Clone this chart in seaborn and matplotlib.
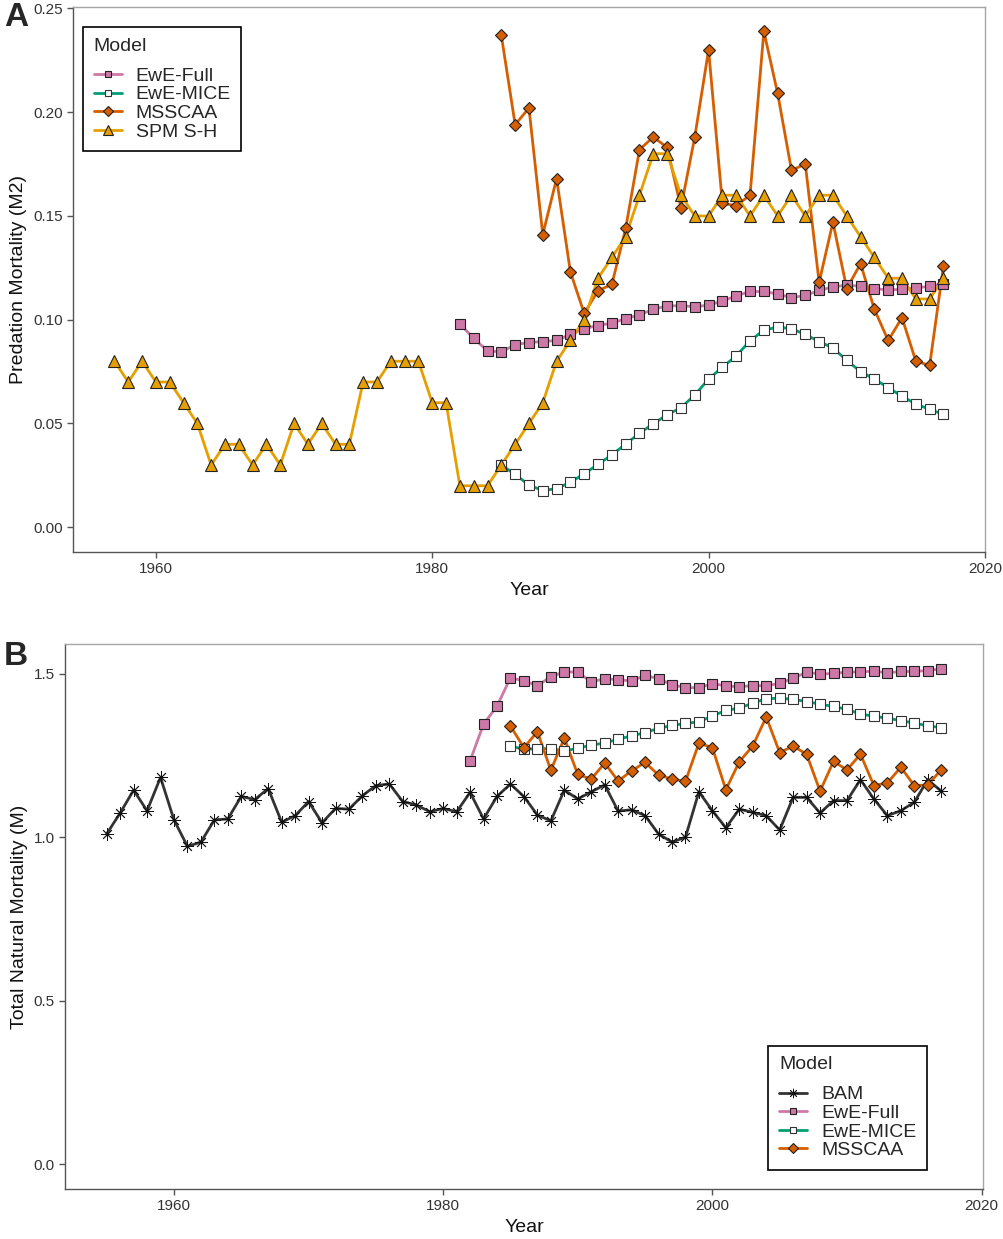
import numpy as np
import pandas as pd
import seaborn as sns
import matplotlib.pyplot as plt
from matplotlib.lines import Line2D

# Panel A: predation mortality (M2)
years_spm = list(range(1957, 2018))
spm_sh = [0.08, 0.07, 0.08, 0.07, 0.07, 0.06, 0.05, 0.03, 0.04, 0.04,
          0.03, 0.04, 0.03, 0.05, 0.04, 0.05, 0.04, 0.04, 0.07, 0.07,
          0.08, 0.08, 0.08, 0.06, 0.06, 0.02, 0.02, 0.02, 0.03, 0.04,
          0.05, 0.06, 0.08, 0.09, 0.10, 0.12, 0.13, 0.14, 0.16, 0.18,
          0.18, 0.16, 0.15, 0.15, 0.16, 0.16, 0.15, 0.16, 0.15, 0.16,
          0.15, 0.16, 0.16, 0.15, 0.14, 0.13, 0.12, 0.12, 0.11, 0.11, 0.12]

years_msscaa_a = list(range(1985, 2018))
msscaa_a = [0.237, 0.194, 0.202, 0.141, 0.168, 0.123, 0.103, 0.114, 0.117,
            0.144, 0.182, 0.188, 0.183, 0.154, 0.188, 0.230, 0.156, 0.155,
            0.160, 0.239, 0.209, 0.172, 0.175, 0.118, 0.147, 0.115, 0.127,
            0.105, 0.090, 0.101, 0.080, 0.078, 0.126]

years_full_a = list(range(1982, 2018))
ewe_full_a = [0.098, 0.091, 0.085, 0.0845, 0.088, 0.089, 0.0895, 0.090, 0.093,
              0.0957, 0.0972, 0.0984, 0.1005, 0.1024, 0.105, 0.1067, 0.1067,
              0.1063, 0.107, 0.109, 0.1115, 0.1136, 0.1136, 0.1124, 0.1106,
              0.1117, 0.1141, 0.1158, 0.1167, 0.1161, 0.1149, 0.1144, 0.1146,
              0.1153, 0.1161, 0.1172]

years_mice_a = list(range(1985, 2018))
ewe_mice_a = [0.030, 0.0255, 0.0203, 0.0177, 0.0186, 0.0217, 0.0258, 0.0303,
              0.0349, 0.0401, 0.0453, 0.0499, 0.0542, 0.0576, 0.0637, 0.0714,
              0.0771, 0.0826, 0.0898, 0.0950, 0.0964, 0.0957, 0.0929, 0.0895,
              0.0864, 0.0804, 0.0750, 0.0714, 0.0673, 0.0631, 0.0594, 0.0568,
              0.0544]

# Panel B: total natural mortality (M)
years_bam = list(range(1955, 2018))
bam = [1.010, 1.074, 1.144, 1.081, 1.183, 1.053, 0.972, 0.985, 1.053, 1.056,
       1.125, 1.115, 1.149, 1.046, 1.066, 1.109, 1.044, 1.088, 1.086, 1.127,
       1.158, 1.163, 1.109, 1.099, 1.078, 1.088, 1.078, 1.137, 1.056, 1.125,
       1.163, 1.124, 1.068, 1.050, 1.144, 1.117, 1.139, 1.160, 1.080, 1.084,
       1.066, 1.010, 0.985, 1.000, 1.139, 1.081, 1.029, 1.086, 1.076, 1.066,
       1.022, 1.122, 1.122, 1.074, 1.112, 1.112, 1.176, 1.117, 1.066, 1.081,
       1.107, 1.176, 1.141]

years_full_b = list(range(1982, 2018))
ewe_full_b = [1.234, 1.346, 1.401, 1.488, 1.478, 1.464, 1.491, 1.506, 1.505,
              1.475, 1.485, 1.482, 1.478, 1.495, 1.485, 1.466, 1.458, 1.457,
              1.470, 1.463, 1.460, 1.464, 1.463, 1.471, 1.486, 1.505, 1.499,
              1.501, 1.505, 1.506, 1.508, 1.503, 1.507, 1.507, 1.510, 1.515]

years_mice_b = list(range(1985, 2018))
ewe_mice_b = [1.279, 1.269, 1.271, 1.271, 1.264, 1.272, 1.282, 1.288, 1.300,
              1.310, 1.320, 1.333, 1.342, 1.348, 1.353, 1.371, 1.388, 1.395,
              1.410, 1.424, 1.425, 1.422, 1.415, 1.407, 1.400, 1.391, 1.377,
              1.370, 1.364, 1.357, 1.349, 1.341, 1.335]

years_msscaa_b = list(range(1985, 2018))
msscaa_b = [1.340, 1.274, 1.323, 1.205, 1.303, 1.192, 1.178, 1.227, 1.172,
            1.203, 1.229, 1.190, 1.178, 1.171, 1.288, 1.274, 1.145, 1.231,
            1.279, 1.368, 1.259, 1.279, 1.254, 1.141, 1.232, 1.206, 1.254,
            1.158, 1.166, 1.214, 1.158, 1.160, 1.206]

# estilo de cada modelo: color linea, marcador, relleno, borde, tamaño
estilos = {
    'BAM': dict(color='#333333', marker=(8, 2, 0), mfc='black', mec='#111111', ms=9, mew=0.6),
    'EwE-Full': dict(color='#CC79A7', marker='s', mfc='#CC79A7', mec='#222222', ms=6.5, mew=0.8),
    'EwE-MICE': dict(color='#009E73', marker='s', mfc='white', mec='#333333', ms=6.5, mew=0.8),
    'MSSCAA': dict(color='#D55E00', marker='D', mfc='#D55E00', mec='#222222', ms=6.5, mew=0.8),
    'SPM S-H': dict(color='#E69F00', marker='^', mfc='#E69F00', mec='#222222', ms=9, mew=0.8),
}

sns.set_style('white')
plt.rcParams['font.family'] = ['Liberation Sans', 'DejaVu Sans']


def dibujar_panel(ax, series):
    # primero todas las lineas, despues todos los puntos (como ggplot)
    for nombre, xs, ys in series:
        df = pd.DataFrame({'Year': xs, 'Value': ys})
        sns.lineplot(data=df, x='Year', y='Value', ax=ax, color=estilos[nombre]['color'],
                     linewidth=2.0, zorder=2, legend=False)
    for nombre, xs, ys in series:
        st = estilos[nombre]
        df = pd.DataFrame({'Year': xs, 'Value': ys})
        sns.lineplot(data=df, x='Year', y='Value', ax=ax, linestyle='', marker=st['marker'],
                     markerfacecolor=st['mfc'], markeredgecolor=st['mec'],
                     markersize=st['ms'], markeredgewidth=st['mew'], color=st['color'],
                     zorder=3, legend=False)
    handles = []
    for nombre, _, _ in series:
        st = estilos[nombre]
        handles.append(Line2D([], [], color=st['color'], lw=2.0, marker=st['marker'],
                              markerfacecolor=st['mfc'], markeredgecolor=st['mec'],
                              markersize=st['ms'] * 0.75, markeredgewidth=st['mew'],
                              label=nombre))
    return handles


def estilo_ejes(ax):
    for lado in ['top', 'right']:
        ax.spines[lado].set_color('#a6a6a6')
    for lado in ['left', 'bottom']:
        ax.spines[lado].set_color('#555555')
    for s in ax.spines.values():
        s.set_linewidth(1.0)
        s.set_visible(True)
    ax.tick_params(axis='both', direction='out', length=4, width=1, color='#555555',
                   labelsize=11, labelcolor='#333333', bottom=True, left=True)
    ax.set_xticks([1960, 1980, 2000, 2020])
    ax.set_xlabel('Year', fontsize=14, color='#111111')


def leyenda(ax, handles, loc, anchor):
    leg = ax.legend(handles=handles, title='Model', loc=loc, bbox_to_anchor=anchor,
                    borderaxespad=0, fontsize=14, title_fontsize=14, alignment='left',
                    fancybox=False, framealpha=1, edgecolor='black', labelspacing=0.05,
                    handlelength=1.45, handletextpad=0.7, borderpad=0.55)
    leg.get_frame().set_linewidth(1.2)
    leg._legend_box.sep = 9
    return leg


fig = plt.figure(figsize=(10.04, 12.39), dpi=100)
ax_a = fig.add_axes([0.0727, 0.5545, 0.9083, 0.4399])
ax_b = fig.add_axes([0.0647, 0.0404, 0.9143, 0.4398])

# Panel A
h_a = dibujar_panel(ax_a, [
    ('EwE-Full', years_full_a, ewe_full_a),
    ('EwE-MICE', years_mice_a, ewe_mice_a),
    ('MSSCAA', years_msscaa_a, msscaa_a),
    ('SPM S-H', years_spm, spm_sh),
])
estilo_ejes(ax_a)
ax_a.set_xlim(1954, 2020)
ax_a.set_ylim(-0.0119, 0.2507)
ax_a.set_yticks([0.00, 0.05, 0.10, 0.15, 0.20, 0.25])
ax_a.set_yticklabels(['0.00', '0.05', '0.10', '0.15', '0.20', '0.25'])
ax_a.set_ylabel('Predation Mortality (M2)', fontsize=14, color='#111111')
leyenda(ax_a, h_a, 'upper left', (0.011, 0.963))

# Panel B
h_b = dibujar_panel(ax_b, [
    ('BAM', years_bam, bam),
    ('EwE-Full', years_full_b, ewe_full_b),
    ('EwE-MICE', years_mice_b, ewe_mice_b),
    ('MSSCAA', years_msscaa_b, msscaa_b),
])
estilo_ejes(ax_b)
ax_b.set_xlim(1951.9, 2020.1)
ax_b.set_ylim(-0.076, 1.591)
ax_b.set_yticks([0.0, 0.5, 1.0, 1.5])
ax_b.set_yticklabels(['0.0', '0.5', '1.0', '1.5'])
ax_b.set_ylabel('Total Natural Mortality (M)', fontsize=14, color='#111111')
leyenda(ax_b, h_b, 'lower right', (0.939, 0.035))

# etiquetas de panel
fig.text(0.004, 0.986, 'A', fontsize=24, fontweight='bold', va='center', ha='left')
fig.text(0.004, 0.470, 'B', fontsize=24, fontweight='bold', va='center', ha='left')

fig.savefig('out.png', dpi=100)
